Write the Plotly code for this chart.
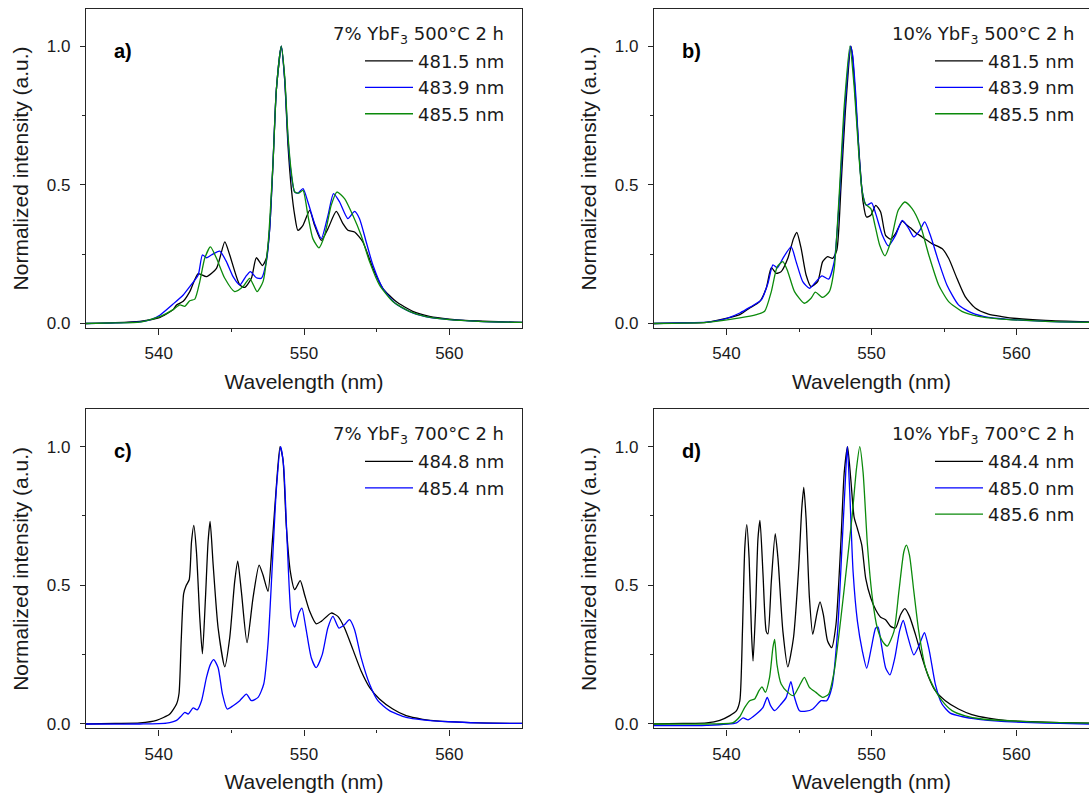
import plotly.graph_objects as go

# ---------------- data (wavelength nm, normalized intensity) ----------------
a_black = [(535.0,0.0),(537.0,0.003),(538.7,0.008),(540.0,0.02),(541.0,0.05),(541.23,0.067),(541.69,0.08),(542.14,0.115),(542.72,0.18),(543.29,0.169),(543.98,0.199),(544.55,0.294),(544.89,0.247),(545.58,0.139),(545.92,0.13),(546.38,0.163),(546.72,0.237),(547.14,0.209),(547.41,0.235),(547.64,0.342),(547.87,0.581),(548.10,0.844),(548.44,1.0),(548.67,0.88),(548.90,0.641),(549.13,0.486),(549.36,0.39),(549.58,0.336),(549.93,0.354),(550.39,0.408),(550.73,0.354),(551.19,0.30),(551.65,0.342),(552.22,0.404),(552.68,0.36),(553.02,0.336),(553.48,0.33),(554.05,0.294),(554.74,0.199),(555.42,0.127),(556.34,0.079),(557.48,0.044),(558.63,0.026),(560.0,0.016),(562.0,0.009),(565.0,0.004)]
a_blue = [(535.0,0.0),(537.0,0.002),(538.7,0.006),(539.5,0.015),(540.08,0.03),(540.99,0.07),(541.69,0.103),(542.14,0.133),(542.72,0.175),(543.01,0.247),(543.29,0.237),(543.63,0.247),(544.20,0.261),(544.66,0.223),(545.12,0.169),(545.58,0.139),(545.99,0.169),(546.31,0.187),(546.72,0.165),(547.07,0.163),(547.41,0.223),(547.64,0.342),(547.87,0.581),(548.10,0.844),(548.44,1.0),(548.67,0.88),(548.90,0.665),(549.13,0.533),(549.36,0.474),(549.58,0.47),(549.93,0.486),(550.27,0.438),(550.73,0.36),(551.19,0.306),(551.65,0.39),(552.03,0.468),(552.45,0.438),(553.02,0.378),(553.48,0.404),(553.82,0.378),(554.28,0.294),(554.74,0.211),(555.42,0.127),(556.34,0.07),(557.48,0.038),(558.63,0.022),(560.0,0.014),(562.0,0.008),(565.0,0.004)]
a_green = [(535.0,0.0),(537.0,0.002),(538.7,0.005),(540.08,0.025),(540.99,0.05),(541.46,0.067),(541.80,0.062),(542.14,0.082),(542.49,0.088),(542.83,0.151),(543.17,0.235),(543.56,0.276),(543.98,0.235),(544.55,0.163),(545.23,0.115),(545.81,0.133),(546.26,0.163),(546.77,0.115),(547.18,0.151),(547.52,0.282),(547.87,0.581),(548.10,0.844),(548.44,1.0),(548.67,0.892),(548.90,0.677),(549.13,0.545),(549.36,0.474),(549.65,0.47),(549.93,0.48),(550.27,0.39),(550.61,0.306),(551.03,0.273),(551.42,0.318),(551.87,0.426),(552.26,0.474),(552.79,0.45),(553.36,0.39),(553.93,0.318),(554.51,0.223),(555.19,0.139),(556.11,0.079),(557.25,0.044),(558.40,0.025),(560.0,0.014),(562.0,0.008),(565.0,0.004)]

b_black = [(535.0,0.0),(537.0,0.002),(538.63,0.004),(540.92,0.032),(541.60,0.056),(542.29,0.079),(542.74,0.127),(543.09,0.201),(543.43,0.181),(543.77,0.187),(544.23,0.235),(544.62,0.306),(544.85,0.328),(545.15,0.27),(545.49,0.175),(545.83,0.133),(546.29,0.151),(546.63,0.223),(546.97,0.241),(547.32,0.235),(547.61,0.265),(547.89,0.486),(548.19,0.76),(548.58,1.0),(548.69,0.964),(548.96,0.76),(549.19,0.581),(549.42,0.438),(549.65,0.384),(549.95,0.39),(550.29,0.426),(550.63,0.402),(550.97,0.318),(551.32,0.304),(551.66,0.324),(552.12,0.369),(552.46,0.354),(552.69,0.345),(553.03,0.328),(553.49,0.312),(554.17,0.288),(554.86,0.27),(555.32,0.235),(555.89,0.163),(556.46,0.097),(557.15,0.056),(558.06,0.034),(558.98,0.025),(560.0,0.018),(562.0,0.011),(565.0,0.006)]
b_blue = [(535.0,0.0),(537.0,0.002),(538.63,0.005),(539.8,0.015),(540.92,0.038),(541.60,0.058),(542.40,0.085),(542.86,0.145),(543.20,0.211),(543.50,0.201),(543.89,0.235),(544.46,0.276),(544.80,0.223),(545.26,0.151),(545.72,0.127),(546.17,0.151),(546.59,0.172),(547.04,0.16),(547.43,0.223),(547.77,0.438),(548.12,0.748),(548.55,1.0),(548.69,0.97),(548.92,0.82),(549.15,0.605),(549.37,0.474),(549.65,0.426),(550.01,0.435),(550.29,0.396),(550.75,0.318),(551.16,0.28),(551.66,0.318),(552.12,0.372),(552.57,0.342),(552.92,0.312),(553.33,0.336),(553.67,0.366),(554.06,0.318),(554.63,0.223),(555.20,0.139),(556.00,0.067),(556.92,0.038),(558.06,0.022),(559.20,0.016),(561.0,0.01),(563.0,0.006),(565.0,0.004)]
b_green = [(535.0,0.0),(537.0,0.001),(538.63,0.004),(540.92,0.02),(542.06,0.032),(542.63,0.044),(543.09,0.115),(543.50,0.205),(543.89,0.223),(544.23,0.187),(544.69,0.115),(545.37,0.073),(545.83,0.091),(546.13,0.113),(546.63,0.094),(547.09,0.115),(547.43,0.199),(547.77,0.462),(548.12,0.784),(548.51,1.0),(548.80,0.856),(549.10,0.629),(549.33,0.486),(549.56,0.432),(549.95,0.414),(550.24,0.354),(550.56,0.283),(550.93,0.244),(551.32,0.294),(551.84,0.408),(552.30,0.438),(552.80,0.414),(553.37,0.354),(553.95,0.247),(554.63,0.139),(555.32,0.079),(556.23,0.044),(557.38,0.026),(558.75,0.017),(561.0,0.01),(563.0,0.006),(565.0,0.004)]

c_black = [(535.0,0.0),(537.0,0.002),(538.71,0.004),(539.85,0.013),(540.77,0.036),(541.23,0.072),(541.40,0.11),(541.55,0.3),(541.72,0.47),(541.90,0.50),(542.10,0.52),(542.26,0.657),(542.42,0.716),(542.60,0.621),(542.83,0.382),(543.01,0.253),(543.22,0.454),(543.40,0.657),(543.54,0.73),(543.75,0.573),(544.09,0.346),(544.55,0.206),(544.89,0.311),(545.23,0.513),(545.44,0.587),(545.69,0.478),(546.08,0.293),(546.49,0.454),(546.91,0.573),(547.18,0.537),(547.52,0.478),(547.82,0.657),(548.10,0.859),(548.35,1.0),(548.55,0.955),(548.78,0.716),(549.06,0.549),(549.36,0.484),(549.74,0.517),(550.04,0.466),(550.39,0.406),(550.84,0.361),(551.19,0.37),(551.87,0.40),(552.33,0.388),(552.79,0.346),(553.36,0.269),(553.93,0.191),(554.51,0.132),(555.19,0.09),(556.11,0.054),(557.03,0.03),(558.17,0.017),(559.31,0.01),(561.0,0.006),(563.0,0.003),(565.0,0.002)]
c_blue = [(535.0,0.0),(538.71,0.0),(540.54,0.003),(541.23,0.013),(541.57,0.03),(541.80,0.042),(542.03,0.036),(542.37,0.058),(542.65,0.051),(542.95,0.084),(543.29,0.168),(543.56,0.215),(543.79,0.232),(544.09,0.203),(544.39,0.108),(544.71,0.054),(545.12,0.066),(545.58,0.084),(546.04,0.108),(546.38,0.084),(546.84,0.096),(547.23,0.144),(547.52,0.287),(547.82,0.573),(548.10,0.847),(548.39,1.0),(548.60,0.93),(548.85,0.645),(549.13,0.382),(549.36,0.349),(549.65,0.40),(549.86,0.418),(550.11,0.352),(550.50,0.239),(550.84,0.203),(551.26,0.251),(551.64,0.346),(551.99,0.388),(552.40,0.346),(552.79,0.358),(553.13,0.376),(553.48,0.34),(553.93,0.239),(554.51,0.144),(555.08,0.084),(555.88,0.048),(557.03,0.024),(558.17,0.015),(560.0,0.008),(562.0,0.004),(565.0,0.002)]

d_black = [(535.0,0.0),(537.0,0.002),(538.63,0.004),(539.54,0.013),(540.23,0.03),(540.69,0.048),(540.92,0.084),(541.10,0.334),(541.26,0.633),(541.40,0.719),(541.56,0.597),(541.72,0.334),(541.83,0.227),(542.01,0.418),(542.17,0.668),(542.31,0.734),(542.52,0.537),(542.74,0.334),(542.86,0.325),(543.09,0.513),(543.36,0.686),(543.55,0.597),(543.89,0.334),(544.23,0.206),(544.62,0.311),(544.99,0.573),(545.19,0.776),(545.33,0.853),(545.49,0.74),(545.72,0.454),(545.95,0.323),(546.24,0.40),(546.45,0.44),(546.68,0.394),(546.97,0.299),(547.25,0.275),(547.55,0.358),(547.89,0.657),(548.12,0.907),(548.35,1.0),(548.57,0.883),(548.80,0.746),(549.03,0.704),(549.33,0.645),(549.60,0.525),(549.95,0.454),(550.29,0.412),(550.63,0.385),(550.97,0.376),(551.32,0.352),(551.66,0.346),(552.00,0.394),(552.30,0.416),(552.62,0.388),(553.03,0.323),(553.49,0.239),(553.95,0.168),(554.40,0.12),(555.09,0.084),(556.00,0.054),(556.92,0.034),(558.06,0.021),(559.20,0.013),(561.0,0.008),(563.0,0.005),(565.0,0.003)]
d_blue = [(535.0,-0.006),(538.63,-0.005),(540.69,0.004),(541.14,0.022),(541.49,0.015),(542.06,0.036),(542.52,0.06),(542.81,0.096),(543.04,0.066),(543.32,0.048),(543.77,0.072),(544.12,0.096),(544.44,0.153),(544.69,0.096),(545.03,0.048),(545.49,0.046),(545.95,0.054),(546.52,0.084),(546.91,0.084),(547.27,0.132),(547.66,0.334),(547.96,0.633),(548.19,0.871),(548.33,1.0),(548.50,0.835),(548.73,0.549),(549.03,0.37),(549.37,0.263),(549.67,0.201),(549.99,0.275),(550.29,0.346),(550.45,0.349),(550.68,0.287),(550.97,0.203),(551.27,0.177),(551.61,0.239),(551.93,0.334),(552.19,0.373),(552.46,0.323),(552.92,0.249),(553.31,0.287),(553.65,0.329),(553.99,0.263),(554.40,0.144),(554.86,0.072),(555.43,0.039),(556.23,0.027),(557.38,0.017),(558.75,0.01),(561.0,0.005),(563.0,0.002),(565.0,0.0)]
d_green = [(535.0,0.0),(538.63,0.0),(540.46,0.005),(540.92,0.027),(541.26,0.06),(541.60,0.084),(541.94,0.09),(542.24,0.12),(542.45,0.134),(542.68,0.114),(542.97,0.168),(543.20,0.275),(543.32,0.305),(543.48,0.215),(543.77,0.144),(544.23,0.114),(544.62,0.102),(545.03,0.138),(545.37,0.168),(545.72,0.132),(546.17,0.114),(546.63,0.096),(547.04,0.108),(547.43,0.191),(547.89,0.382),(548.35,0.597),(548.69,0.764),(548.96,0.919),(549.19,1.0),(549.42,0.907),(549.72,0.645),(550.06,0.454),(550.40,0.346),(550.75,0.299),(551.09,0.281),(551.55,0.334),(551.89,0.478),(552.23,0.621),(552.41,0.645),(552.62,0.609),(552.92,0.478),(553.26,0.334),(553.72,0.203),(554.29,0.132),(554.86,0.084),(555.55,0.048),(556.46,0.029),(557.60,0.018),(560.0,0.01),(562.0,0.006),(565.0,0.003)]

panel_titles = ["7% YbF<sub>3</sub> 500°C 2 h", "10% YbF<sub>3</sub> 500°C 2 h",
                "7% YbF<sub>3</sub> 700°C 2 h", "10% YbF<sub>3</sub> 700°C 2 h"]
panel_letters = ["a)", "b)", "c)", "d)"]
series = [
    [("481.5 nm", a_black, "black"), ("483.9 nm", a_blue, "blue"), ("485.5 nm", a_green, "green")],
    [("481.5 nm", b_black, "black"), ("483.9 nm", b_blue, "blue"), ("485.5 nm", b_green, "green")],
    [("484.8 nm", c_black, "black"), ("485.4 nm", c_blue, "blue")],
    [("484.4 nm", d_black, "black"), ("485.0 nm", d_blue, "blue"), ("485.6 nm", d_green, "green")],
]
x_ticks = [540, 550, 560]
x_minor = [545, 555]
y_ticks = [0.0, 0.5, 1.0]
y_ticklabels = ["0.0", "0.5", "1.0"]
y_minor = [0.25, 0.75]

COLORS = {"black": "#000000", "blue": "#0000ff", "green": "#0b8a0b"}
W, H = 1089, 801
FONT = "Liberation Sans"
LFONT = "DejaVu Sans"
AX = "#262626"
TXT = "#1a1a1a"

def fx(p):
    return p / W

def fy(p):
    return 1 - p / H

# pixel boxes: (left, right, top, bottom)
boxes = [(86, 522, 9, 330), (654, 1089, 9, 330), (86, 522, 412, 733), (654, 1089, 412, 733)]

fig = go.Figure()
layout = dict(width=W, height=H, margin=dict(l=0, r=0, t=0, b=0),
              paper_bgcolor="white", plot_bgcolor="white",
              font=dict(family=FONT, color=TXT, size=18), showlegend=True,
              annotations=[])

for i, (box, sers) in enumerate(zip(boxes, series)):
    n = i + 1
    sfx = "" if n == 1 else str(n)
    L, R, T, B = box
    for j, (name, pts, col) in enumerate(sers):
        fig.add_trace(go.Scatter(
            x=[p[0] for p in pts], y=[p[1] for p in pts], mode="lines", name=name,
            line=dict(color=COLORS[col], width=1.3, shape="spline", smoothing=0.6),
            xaxis="x" + sfx, yaxis="y" + sfx, legend="legend" + sfx))
    left_panel = (i % 2 == 0)
    layout["xaxis" + sfx] = dict(
        domain=[fx(L), fx(R)], range=[535, 565], anchor="y" + sfx,
        showline=True, linecolor=AX, linewidth=1.2, mirror=True,
        ticks="outside", ticklen=6, tickwidth=1.2, tickcolor=AX,
        tickmode="array", tickvals=x_ticks,
        minor=dict(tickmode="array", tickvals=x_minor, ticks="outside", ticklen=3, tickwidth=1.2, tickcolor=AX),
        showgrid=False, zeroline=False, tickfont=dict(size=17, family=FONT, color=TXT),
        ticklabelstandoff=4,
        title=dict(text="Wavelength (nm)", font=dict(size=21, family=FONT, color=TXT), standoff=11))
    layout["yaxis" + sfx] = dict(
        domain=[fy(B), fy(T)], range=[-0.016, 1.134], anchor="x" + sfx,
        showline=True, linecolor=AX, linewidth=1.2, mirror=left_panel,
        ticks="outside", ticklen=5, tickwidth=1.2, tickcolor=AX,
        tickmode="array", tickvals=y_ticks, ticktext=y_ticklabels,
        minor=dict(tickmode="array", tickvals=y_minor, ticks="outside", ticklen=3, tickwidth=1.2, tickcolor=AX),
        showgrid=False, zeroline=False, tickfont=dict(size=17, family=FONT, color=TXT),
        ticklabelstandoff=6,
        title=dict(text="Normalized intensity (a.u.)", font=dict(size=21, family=FONT, color=TXT), standoff=12))
    text_right = 505 if left_panel else 1075
    layout["legend" + sfx] = dict(
        x=fx(text_right + 5), xanchor="right", y=fy(T + 34), yanchor="top",
        bgcolor="rgba(0,0,0,0)", borderwidth=0, tracegroupgap=0,
        font=dict(size=18, family=LFONT, color=TXT), itemwidth=48)
    layout["annotations"].append(dict(
        text=panel_titles[i], xref="paper", yref="paper", x=fx(text_right + 1), y=fy(T + 26),
        xanchor="right", yanchor="middle", showarrow=False,
        font=dict(size=18, family=LFONT, color=TXT)))
    layout["annotations"].append(dict(
        text="<b>" + panel_letters[i] + "</b>", xref="paper", yref="paper",
        x=fx(L + 26), y=fy(T + 42), xanchor="left", yanchor="middle", showarrow=False,
        font=dict(size=20, family=FONT, color="#000000")))

fig.update_layout(**layout)
fig.write_html("out.html")
